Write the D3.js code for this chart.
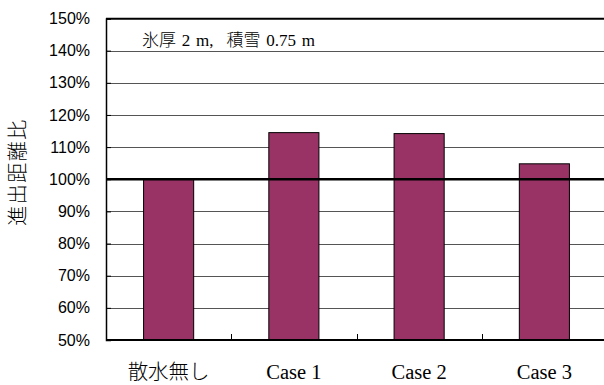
<!DOCTYPE html>
<html>
<head>
<meta charset="utf-8">
<script src="https://cdn.jsdelivr.net/npm/d3@7"></script>
<style>
  html, body { margin: 0; padding: 0; background: #fff; }
  svg { display: block; }
</style>
</head>
<body>
<script>
// Advance distance ratio by watering case
const categories = ["散水無し", "Case 1", "Case 2", "Case 3"];
const ratios = [1.00, 1.145, 1.142, 1.048];
const yTicks = [0.5, 0.6, 0.7, 0.8, 0.9, 1.0, 1.1, 1.2, 1.3, 1.4, 1.5];
const yTitle = "進出距離比";
const noteParts = ["氷厚 2 m,", "積雪 0.75 m"];
const baseline = 1.0;

const W = 604, H = 385;
const plot = { left: 106, right: 607, top: 18.5, bottom: 340 };

const serifMix = "'Liberation Serif', 'Times New Roman', 'Noto Sans CJK JP', serif";

const svg = d3.select("body").append("svg").attr("width", W).attr("height", H);

const x = d3.scaleBand()
  .domain(categories)
  .range([plot.left, plot.right])
  .paddingInner(0.6)
  .paddingOuter(0.3);

const y = d3.scaleLinear().domain([0.5, 1.5]).range([plot.bottom, plot.top]);

// horizontal gridlines
svg.append("g").selectAll("line")
  .data(yTicks.filter(t => t > 0.5))
  .join("line")
  .attr("x1", plot.left).attr("x2", plot.right)
  .attr("y1", d => Math.round(y(d)) + 0.5).attr("y2", d => Math.round(y(d)) + 0.5)
  .attr("stroke", "#555").attr("stroke-width", 1);

// bars
svg.append("g").selectAll("rect")
  .data(categories.map((c, i) => ({ c, v: ratios[i] })))
  .join("rect")
  .attr("x", d => x(d.c))
  .attr("y", d => y(d.v))
  .attr("width", x.bandwidth())
  .attr("height", d => y(0.5) - y(d.v))
  .attr("fill", "#993366")
  .attr("stroke", "#000")
  .attr("stroke-width", 1);

// reference line at 100%
svg.append("line")
  .attr("x1", plot.left).attr("x2", plot.right)
  .attr("y1", y(baseline)).attr("y2", y(baseline))
  .attr("stroke", "#000").attr("stroke-width", 2.5);

// top border
svg.append("line")
  .attr("x1", plot.left).attr("x2", plot.right)
  .attr("y1", y(1.5)).attr("y2", y(1.5))
  .attr("stroke", "#000").attr("stroke-width", 1.5);

// y axis with inward ticks
const yAxis = d3.axisLeft(y)
  .tickValues(yTicks)
  .tickSize(-5)
  .tickPadding(16)
  .tickFormat(d3.format(".0%"));
const gy = svg.append("g").attr("transform", `translate(${plot.left},0)`).call(yAxis);
gy.select(".domain").attr("stroke", "#000").attr("stroke-width", 1.5);
gy.selectAll(".tick line").attr("stroke", "#000");
gy.selectAll(".tick text")
  .attr("font-family", "'Liberation Sans', Arial, sans-serif")
  .attr("font-size", 16).attr("fill", "#000");

// x axis: boundary ticks pointing up, labels below
const boundaries = categories.slice(1).map(c => x(c) - x.step() * x.paddingInner() / 2);
svg.append("line")
  .attr("x1", plot.left).attr("x2", plot.right)
  .attr("y1", plot.bottom).attr("y2", plot.bottom)
  .attr("stroke", "#000").attr("stroke-width", 2);
svg.append("g").selectAll("line")
  .data(boundaries)
  .join("line")
  .attr("x1", d => Math.round(d) + 0.5).attr("x2", d => Math.round(d) + 0.5)
  .attr("y1", plot.bottom).attr("y2", plot.bottom - 6)
  .attr("stroke", "#000");

svg.append("g").selectAll("text")
  .data(categories)
  .join("text")
  .attr("x", d => x(d) + x.bandwidth() / 2)
  .attr("y", 379)
  .attr("text-anchor", "middle")
  .attr("font-family", serifMix)
  .attr("font-size", 20.5)
  .attr("font-weight", 300)
  .attr("fill", "#000")
  .text(d => d);

// y axis title
svg.append("text")
  .attr("transform", "translate(25,172) rotate(-90)")
  .attr("text-anchor", "middle")
  .attr("font-family", "'Noto Sans CJK JP', sans-serif")
  .attr("font-size", 20)
  .attr("font-weight", 300)
  .attr("letter-spacing", 1.5)
  .attr("fill", "#000")
  .text(yTitle);

// annotation
const noteText = svg.append("text")
  .attr("x", 142)
  .attr("y", 46)
  .attr("font-family", serifMix)
  .attr("font-size", 17)
  .attr("font-weight", 300)
  .attr("word-spacing", 1.5)
  .attr("fill", "#000");
noteText.selectAll("tspan")
  .data(noteParts)
  .join("tspan")
  .attr("dx", (d, i) => i === 0 ? 0 : 13)
  .text(d => d);
</script>
</body>
</html>
